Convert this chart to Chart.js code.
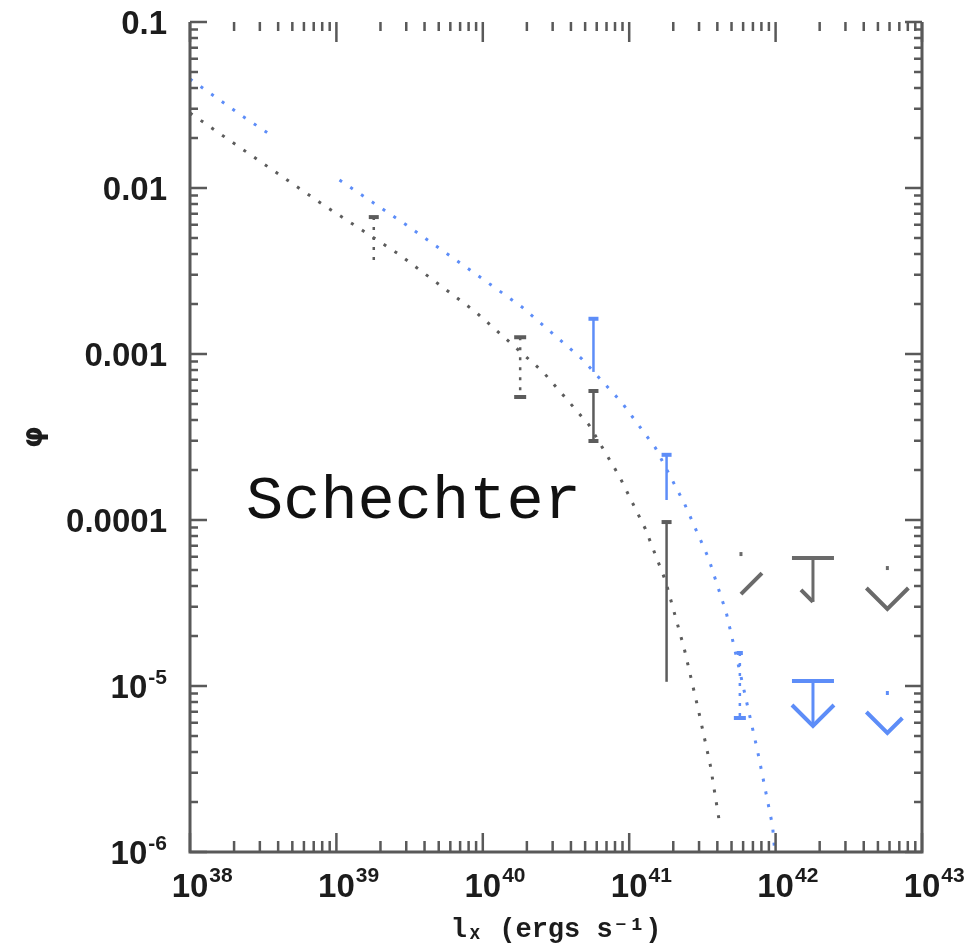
<!DOCTYPE html>
<html>
<head>
<meta charset="utf-8">
<script src="https://cdn.jsdelivr.net/npm/chart.js@4/dist/chart.umd.min.js"></script>
<style>
  html, body { margin: 0; padding: 0; background: #fff; }
  #wrap { width: 971px; height: 952px; }
</style>
</head>
<body>
<div id="wrap"><canvas id="lf"></canvas></div>
<script>
// Schechter fits (L_x in erg/s, phi)
const grayCurveL   = [1e38, 2.66e38, 8.15e38, 2.66e39, 8.95e39, 2.58e40, 5.32e40, 8.55e40, 1.29e41, 1.77e41, 2.38e41, 2.97e41, 3.59e41, 4.13e41];
const grayCurvePhi = [0.0283, 0.0156, 0.00791, 0.0040, 0.00179, 7.8e-4, 3.73e-4, 1.84e-4, 8.83e-5, 4.3e-5, 1.67e-5, 7.16e-6, 3.3e-6, 1.52e-6];
const blueCurveL   = [1e38, 2.23e38, 3.82e38, 1.05e39, 3.01e39, 8.55e39, 1.85e40, 4.76e40, 8.95e40, 1.51e41, 2.38e41, 3.48e41, 4.61e41, 5.75e41, 7.53e41, 9.53e41, 9.84e41];
const blueCurvePhi = [0.0454, 0.0275, 0.020, 0.01117, 0.00598, 0.00312, 0.00192, 9.33e-4, 5.07e-4, 2.72e-4, 1.26e-4, 5.9e-5, 2.75e-5, 1.18e-5, 4.06e-6, 1.44e-6, 1.03e-6];

// binned points: error bar top / bottom
const grayBinL  = [1.8e39, 1.8e40, 5.7e40, 1.8e41];
const grayBinHi = [6.68e-3, 1.26e-3, 5.98e-4, 9.72e-5];
const grayBinLo = [3.58e-3, 5.51e-4, 2.99e-4, 1.06e-5];
const blueBinL  = [5.7e40, 1.8e41, 5.7e41];
const blueBinHi = [1.63e-3, 2.47e-4, 1.58e-5];
const blueBinLo = [7.8e-4, 1.32e-4, 6.41e-6];

// upper limits: top of the arrow / arrow tip
const grayLimL   = [5.8e41, 1.8e42, 5.8e42];
const grayLimTop = [6.41e-5, 5.9e-5, 5.28e-5];
const grayLimTip = [3.58e-5, 3.21e-5, 2.91e-5];
const blueLimL   = [1.8e42, 5.8e42];
const blueLimTop = [1.07e-5, 9.33e-6];
const blueLimTip = [5.74e-6, 5.21e-6];

// tick labels ('^' starts a superscript)
const xDecades = [38, 39, 40, 41, 42, 43];
const xTickLabels = ['10^38', '10^39', '10^40', '10^41', '10^42', '10^43'];
const yDecades = [-6, -5, -4, -3, -2, -1];
const yTickLabels = ['10^-6', '10^-5', '0.0001', '0.001', '0.01', '0.1'];

const GRAY = '#5c5c5c';
const BLUE = '#5d8df8';
const AXIS = '#595959';
const INK = '#1c1c1c';
const SANS = '"Liberation Sans", Arial, sans-serif';

const pts = (xs, ys) => xs.map((x, i) => ({ x, y: ys[i] }));

// inward ticks on all four sides, tick labels, error bars, upper limits, the label
const framePlugin = {
  id: 'frame',
  afterDatasetsDraw(chart, args, opts) {
    const { ctx, chartArea: a } = chart;
    const xs = chart.scales.x, ys = chart.scales.y;
    ctx.save();
    ctx.strokeStyle = AXIS;
    ctx.lineCap = 'butt';

    // frame (top edge is missing on the scan)
    ctx.lineWidth = 3;
    ctx.beginPath();
    ctx.moveTo(a.left, a.top); ctx.lineTo(a.left, a.bottom);
    ctx.lineTo(a.right, a.bottom); ctx.lineTo(a.right, a.top);
    ctx.stroke();

    ctx.lineWidth = 2.5;
    ctx.beginPath();
    yDecades.forEach(e => {
      for (let k = 1; k <= 9; k++) {
        if (e === yDecades[yDecades.length - 1] && k > 1) break;
        const py = ys.getPixelForValue(k * Math.pow(10, e));
        const len = k === 1 ? 17 : 8;
        ctx.moveTo(a.left, py); ctx.lineTo(a.left + len, py);
        ctx.moveTo(a.right, py); ctx.lineTo(a.right - len, py);
      }
    });
    xDecades.forEach(e => {
      for (let k = 1; k <= 9; k++) {
        if (e === xDecades[xDecades.length - 1] && k > 1) break;
        const px = xs.getPixelForValue(k * Math.pow(10, e));
        const len = k === 1 ? 19 : 11;
        ctx.moveTo(px, a.bottom); ctx.lineTo(px, a.bottom - len);
        ctx.moveTo(px, a.top); ctx.lineTo(px, a.top + (k === 1 ? 20 : 9));
      }
    });
    ctx.stroke();

    // tick labels with real superscripts
    const big = 'bold 33px ' + SANS, small = 'bold 21px ' + SANS;
    ctx.fillStyle = INK;
    ctx.textBaseline = 'alphabetic';
    yDecades.forEach((e, i) => {
      const py = ys.getPixelForValue(Math.pow(10, e));
      const [base, sup] = yTickLabels[i].split('^');
      const right = a.left - 23;
      ctx.font = small;
      const wSup = sup ? ctx.measureText(sup).width + 1 : 0;
      ctx.font = big;
      ctx.textAlign = 'right';
      ctx.fillText(base, right - wSup, py + 12);
      if (sup) {
        ctx.font = small;
        ctx.textAlign = 'left';
        ctx.fillText(sup, right - wSup + 1, py - 2);
      }
    });
    xDecades.forEach((e, i) => {
      const px = xs.getPixelForValue(Math.pow(10, e));
      const [base, sup] = xTickLabels[i].split('^');
      ctx.font = big;
      ctx.textAlign = 'center';
      ctx.fillText(base, px, a.bottom + 45);
      const w = ctx.measureText(base).width;
      ctx.font = small;
      ctx.textAlign = 'left';
      ctx.fillText(sup, px + w / 2 + 1, a.bottom + 30);
    });

    // error bars
    const bars = (L, hi, lo, color, style) => {
      L.forEach((l, i) => {
        const s = style[i];
        const px = xs.getPixelForValue(l);
        const y1 = ys.getPixelForValue(hi[i]), y2 = ys.getPixelForValue(lo[i]);
        ctx.strokeStyle = color;
        ctx.lineWidth = 2.5;
        ctx.setLineDash(s.dotted ? [3, 7] : []);
        ctx.beginPath(); ctx.moveTo(px, y1); ctx.lineTo(px, y2); ctx.stroke();
        ctx.setLineDash([]);
        ctx.lineWidth = 4;
        ctx.beginPath();
        ctx.moveTo(px - s.capTop, y1); ctx.lineTo(px + s.capTop, y1);
        if (s.capBottom) { ctx.moveTo(px - s.capBottom, y2); ctx.lineTo(px + s.capBottom, y2); }
        ctx.stroke();
      });
    };
    bars(grayBinL, grayBinHi, grayBinLo, GRAY, opts.grayBars);
    bars(blueBinL, blueBinHi, blueBinLo, BLUE, opts.blueBars);

    // upper-limit arrows
    const limits = (L, top, tip, color, style) => {
      L.forEach((l, i) => {
        const s = style[i];
        const px = xs.getPixelForValue(l);
        const y1 = ys.getPixelForValue(top[i]), y2 = ys.getPixelForValue(tip[i]);
        ctx.strokeStyle = color;
        ctx.lineWidth = 3;
        ctx.setLineDash(s.bar ? [] : [4, 400]);
        ctx.beginPath(); ctx.moveTo(px, y1); ctx.lineTo(px, y2); ctx.stroke();
        ctx.setLineDash([]);
        ctx.lineWidth = 4;
        ctx.beginPath();
        if (s.bar) { ctx.moveTo(px - 21, y1); ctx.lineTo(px + 21, y1); }
        if (s.left) { ctx.moveTo(px - s.left, y2 - s.left); ctx.lineTo(px, y2); }
        else ctx.moveTo(px, y2);
        if (s.right) { ctx.lineTo(px + s.right, y2 - s.right); }
        ctx.stroke();
      });
    };
    limits(grayLimL, grayLimTop, grayLimTip, '#6a6a6a', opts.grayLimits);
    limits(blueLimL, blueLimTop, blueLimTip, BLUE, opts.blueLimits);

    ctx.fillStyle = '#111';
    ctx.font = '62px "Liberation Mono", "DejaVu Sans Mono", monospace';
    ctx.textAlign = 'left';
    ctx.textBaseline = 'alphabetic';
    ctx.fillText('Schechter', 246, 518);
    ctx.restore();
  }
};

new Chart(document.getElementById('lf'), {
  type: 'scatter',
  data: {
    datasets: [
      {
        label: 'Schechter (all)',
        data: pts(grayCurveL, grayCurvePhi),
        showLine: true, pointRadius: 0,
        borderColor: GRAY, borderWidth: 3, borderDash: [3, 10]
      },
      {
        label: 'Schechter (blue)',
        data: pts(blueCurveL, blueCurvePhi),
        showLine: true, pointRadius: 0,
        borderColor: BLUE, borderWidth: 3, borderDash: [3, 10],
        segment: { borderColor: c => c.p0DataIndex === 2 ? 'rgba(0,0,0,0)' : undefined }
      }
    ]
  },
  options: {
    responsive: true,
    maintainAspectRatio: false,
    animation: false,
    layout: { padding: { left: 8, right: 49, top: 22, bottom: 6 } },
    plugins: {
      legend: { display: false },
      tooltip: { enabled: false },
      frame: {
        grayBars: [
          { dotted: true, capTop: 5 },
          { dotted: true, capTop: 6, capBottom: 6 },
          { capTop: 5, capBottom: 5 },
          { capTop: 5 }
        ],
        blueBars: [
          { capTop: 5 },
          { capTop: 5 },
          { dotted: true, capTop: 3, capBottom: 6 }
        ],
        grayLimits: [
          { right: 21 },
          { bar: true, left: 12 },
          { left: 21, right: 21 }
        ],
        blueLimits: [
          { bar: true, left: 21, right: 21 },
          { left: 21, right: 15 }
        ]
      }
    },
    scales: {
      x: {
        type: 'logarithmic',
        min: 1e38, max: 1e43,
        grid: { display: false },
        border: { display: false },
        afterFit: s => { s.height = 94; },
        ticks: { display: false },
        title: {
          display: true, text: 'lₓ (ergs s⁻¹)', color: INK,
          font: { family: '"Liberation Mono", "DejaVu Sans Mono", monospace', size: 27, weight: 'bold' },
          padding: { top: 0, bottom: 0 }
        }
      },
      y: {
        type: 'logarithmic',
        min: 1e-6, max: 0.1,
        grid: { display: false },
        border: { display: false },
        afterFit: s => { s.width = 182; },
        ticks: { display: false },
        title: {
          display: true, text: 'φ', color: INK,
          font: { family: '"DejaVu Sans", sans-serif', size: 28, weight: 'bold' },
          padding: { top: 10, bottom: 0 }
        }
      }
    }
  },
  plugins: [framePlugin]
});
</script>
</body>
</html>
